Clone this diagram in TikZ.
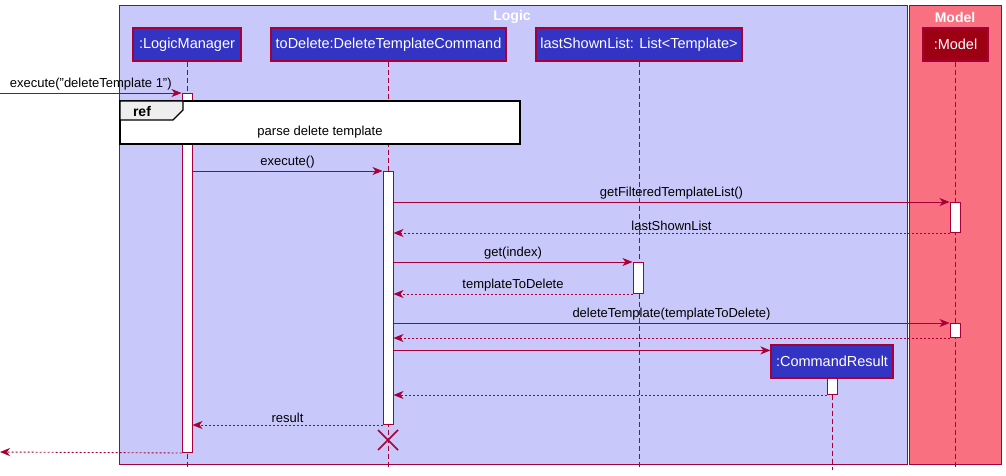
\documentclass[tikz,border=0pt]{standalone}
\usepackage{fontspec}
\setmainfont{Liberation Sans}
\usetikzlibrary{arrows.meta, positioning}
\definecolor{umlred}{HTML}{A80036}
\definecolor{umlblue}{HTML}{3333C4}
\definecolor{logicbg}{HTML}{C8C8FA}
\definecolor{modelbg}{HTML}{F97181}
\definecolor{modeldark}{HTML}{9D0012}
\definecolor{refgray}{HTML}{EEEEEE}

\begin{document}
\begin{tikzpicture}[x=1pt, y=-1pt,
    actor/.style={draw=umlred, line width=1.2pt, fill=umlblue, text=white,
      font=\fontsize{14.5}{16}\selectfont, minimum height=33pt, inner sep=0pt},
    lifeline/.style={umlred, line width=0.8pt, dash pattern=on 5pt off 3pt},
    activation/.style={draw=umlred, fill=white, line width=1pt, minimum width=10pt,
      inner sep=0pt, anchor=north},
    msg/.style={umlred, line width=0.9pt, -{Stealth[length=10pt, width=8pt, inset=3pt]}},
    reply/.style={msg, dash pattern=on 2pt off 2pt},
    msglabel/.style={above=-1pt, midway, text=black, font=\fontsize{13}{15}\selectfont},
    boxtitle/.style={text=white, font=\fontsize{14}{16}\selectfont\bfseries}
  ]
  \useasboundingbox (0,0) rectangle (1006,476);

  % boxes
  \draw[umlred, line width=1pt, fill=logicbg] (119,6) rectangle (907,464);
  \draw[umlred, line width=1pt, fill=modelbg] (909,6) rectangle (1001,464);
  \node[boxtitle] (logicTitle) at (512,17) {Logic};
  \node[boxtitle] (modelTitle) at (955,17) {Model};

  % participants
  \node[actor, minimum width=108pt] (lm) at (187,44.5) {:LogicManager};
  \node[actor, minimum width=235pt] (cmd) at (388.5,44.5) {toDelete:DeleteTemplateCommand};
  \node[actor, minimum width=206pt] (list) at (639,44.5) {lastShownList: List<Template>};
  \node[actor, minimum width=65pt, fill=modeldark] (model) at (955.5,44.5) {:Model};
  \node[actor, minimum width=122pt] (res) at (832,361.5) {:CommandResult};

  \coordinate (llEnd) at (0,467);
  \draw[lifeline] (lm.south) -- (lm.south |- llEnd);
  \draw[lifeline] (cmd.south) -- (cmd.south |- llEnd);
  \draw[lifeline] (list.south) -- (list.south |- llEnd);
  \draw[lifeline] (model.south) -- (model.south |- llEnd);
  \draw[lifeline] (res.south) -- ([yshift=-3pt]res.south |- llEnd);

  % activations
  \node[activation, minimum height=359pt] (aLM) at (187,93) {};
  \node[activation, minimum height=253pt] (aCmd) at (388,171) {};
  \node[activation, minimum height=30pt] (aModel1) at (955,202) {};
  \node[activation, minimum height=31pt] (aList) at (638,262) {};
  \node[activation, minimum height=14pt] (aModel2) at (955,323) {};
  \node[activation, minimum height=16pt] (aRes) at (832,378) {};

  % ref frame
  \draw[black, line width=1.5pt, fill=white] (120,101) rectangle (520,144);
  \draw[black, line width=1.2pt, fill=refgray]
    (120,101) -- (183,101) -- (183,110) -- (173,120) -- (120,120) -- cycle;
  \node[font=\fontsize{14}{16}\selectfont\bfseries] (refTag) at (142,111) {ref};
  \node[font=\fontsize{13}{15}\selectfont] (refText) at (320,132) {parse delete template};

  % messages
  \coordinate (in) at (0,93);
  \coordinate (out) at (0,452);
  \coordinate (resIn) at ([yshift=-6pt]res.north west);
  \draw[msg] (in) -- (aLM.north west) node[msglabel] {execute("deleteTemplate 1")};
  \draw[msg] (aLM.east |- aCmd.north) -- (aCmd.north west) node[msglabel] {execute()};
  \draw[msg] (aCmd.east |- aModel1.north) -- (aModel1.north west)
    node[msglabel] {getFilteredTemplateList()};
  \draw[reply] (aModel1.south west) -- (aCmd.east |- aModel1.south)
    node[msglabel] {lastShownList};
  \draw[msg] (aCmd.east |- aList.north) -- (aList.north west) node[msglabel] {get(index)};
  \draw[reply] (aList.south west) -- (aCmd.east |- aList.south)
    node[msglabel] {templateToDelete};
  \draw[msg] (aCmd.east |- aModel2.north) -- (aModel2.north west)
    node[msglabel] {deleteTemplate(templateToDelete)};
  \draw[reply] (aModel2.south west) -- (aCmd.east |- aModel2.south);
  \draw[msg] (aCmd.east |- resIn) -- (resIn);
  \draw[reply] (aRes.south west) -- (aCmd.east |- aRes.south);
  \draw[reply] (aCmd.south west) -- (aLM.east |- aCmd.south) node[msglabel] {result};
  \draw[reply] (aLM.south west) -- (out);

  % destroy
  \draw[umlred, line width=1.5pt]
    ([shift={(-10,5)}]aCmd.south) -- ([shift={(10,25)}]aCmd.south)
    ([shift={(-10,25)}]aCmd.south) -- ([shift={(10,5)}]aCmd.south);
\end{tikzpicture}
\end{document}
